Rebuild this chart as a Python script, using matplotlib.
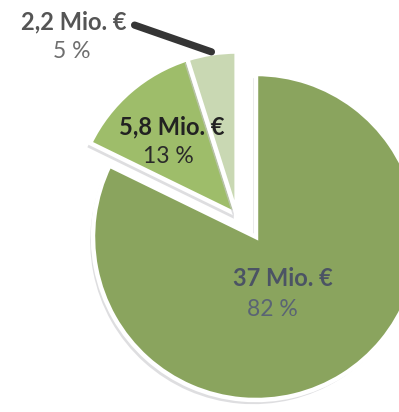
import numpy as np
import matplotlib
matplotlib.use("Agg")
import matplotlib.pyplot as plt
import matplotlib.patheffects as pe

# Budget split (Mio. €) and shares
amounts = [37, 5.8, 2.2]
amount_labels = ["37 Mio. €", "5,8 Mio. €", "2,2 Mio. €"]
share_labels = ["82 %", "13 %", "5 %"]
colors = ["#8aa45e", "#9ebd6a", "#c9d8b3"]

plt.rcParams["font.family"] = ["Lato", "DejaVu Sans"]

fig = plt.figure(figsize=(3.99, 4.12), dpi=100)
ax = fig.add_axes([0, 0, 1, 1])

shadow = [pe.SimplePatchShadow(offset=(-2, -3), shadow_rgbFace="#c8c8cc", alpha=0.6),
          pe.Normal()]

wedges, _ = ax.pie(amounts, colors=colors, startangle=90, counterclock=False,
                   radius=1.0,
                   wedgeprops=dict(edgecolor="white", linewidth=3.2))

ax.set_xlim(-1.5706, 0.8773)
ax.set_ylim(-1.0736, 1.454)
ax.set_aspect("equal")
ax.axis("off")

# Pull the two small segments out together, along the middle of the 13 % segment
total = sum(amounts)
mid_frac = (amounts[0] + amounts[1] / 2) / total
ang = np.deg2rad(90 - 360 * mid_frac)
pull = 0.182
offset = (pull * np.cos(ang), pull * np.sin(ang))
for w in wedges[1:]:
    w.set_center(offset)
for w in wedges:
    w.set_path_effects(shadow)

# Leader line to the 5 % segment
small_mid = (amounts[0] + amounts[1] + amounts[2] / 2) / total
a2 = np.deg2rad(90 - 360 * small_mid)
tip = (offset[0] + 1.01 * np.cos(a2), offset[1] + 1.01 * np.sin(a2))
ax.annotate("", xy=tip, xytext=(-0.745, 1.30),
            arrowprops=dict(arrowstyle="-", lw=5.2, color="#353535",
                            shrinkA=0, shrinkB=0))

# Labels
ax.text(-1.117, 1.319, amount_labels[2], ha="center", va="center",
        fontsize=17, fontweight="bold", color="#555555")
ax.text(-1.129, 1.140, share_labels[2], ha="center", va="center",
        fontsize=16.5, color="#6e6e6e")

ax.text(-0.515, 0.675, amount_labels[1], ha="center", va="center",
        fontsize=17, fontweight="bold", color="#222222")
ax.text(-0.54, 0.492, share_labels[1], ha="center", va="center",
        fontsize=16.5, color="#2a2a2a")

ax.text(0.166, -0.252, amount_labels[0], ha="center", va="center",
        fontsize=17, fontweight="bold", color="#4b5364")
ax.text(0.098, -0.445, share_labels[0], ha="center", va="center",
        fontsize=16.5, color="#5a6474")

fig.savefig("out.png", dpi=100, facecolor="white")
